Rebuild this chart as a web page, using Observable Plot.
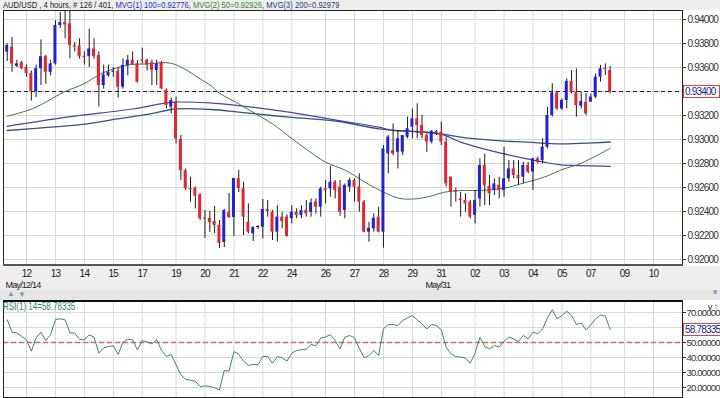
<!DOCTYPE html>
<html><head><meta charset="utf-8">
<script src="https://cdn.jsdelivr.net/npm/d3@7"></script>
<script src="https://cdn.jsdelivr.net/npm/@observablehq/plot@0.6"></script>
<style>
body{margin:0;background:#fff;}
#wrap{position:relative;width:720px;height:398px;overflow:hidden;font-family:"Liberation Sans",Arial,sans-serif;color:#222;}
.abs{position:absolute;white-space:nowrap;}
.sq{transform:scaleX(0.8);transform-origin:0 0;}
</style></head><body><div id="wrap"></div>
<script>
// ---- data ----
const opens=[0.93728,0.93770,0.93610,0.93640,0.93600,0.93550,0.93400,0.93590,0.93690,0.93560,
0.93630,0.93950,0.93975,0.93964,0.93780,0.93780,0.93690,0.93690,0.93755,0.93700,
0.93450,0.93530,0.93560,0.93570,0.93436,0.93617,0.93660,0.93630,0.93660,0.93660,
0.93640,0.93575,0.93640,0.93410,0.93270,0.93310,0.93000,0.92740,0.92589,0.92594,
0.92540,0.92345,0.92342,0.92317,0.92283,0.92142,0.92392,0.92350,0.92675,0.92589,
0.92310,0.92214,0.92269,0.92269,0.92417,0.92394,0.92228,0.92353,0.92353,0.92340,
0.92394,0.92367,0.92408,0.92394,0.92478,0.92436,0.92589,0.92589,0.92644,0.92603,
0.92408,0.92603,0.92658,0.92603,0.92478,0.92228,0.92255,0.92353,0.92228,0.92880,
0.92908,0.92894,0.92894,0.93019,0.93103,0.93172,0.93117,0.93033,0.92978,0.93067,
0.93061,0.92978,0.92686,0.92575,0.92505,0.92492,0.92478,0.92367,0.92505,0.92783,
0.92610,0.92575,0.92617,0.92575,0.92672,0.92755,0.92700,0.92686,0.92783,0.92728,
0.92839,0.92825,0.92936,0.93200,0.93389,0.93255,0.93325,0.93483,0.93394,0.93278,
0.93311,0.93311,0.93353,0.93520,0.93592,0.93575];
const highs=[0.93800,0.93850,0.93660,0.93650,0.93620,0.93570,0.93620,0.93830,0.93700,0.93660,
0.93990,0.94060,0.94070,0.94070,0.93810,0.93840,0.93730,0.93920,0.93840,0.93730,
0.93620,0.93620,0.93600,0.93600,0.93672,0.93700,0.93730,0.93658,0.93760,0.93670,
0.93660,0.93660,0.93650,0.93422,0.93345,0.93353,0.93033,0.92755,0.92686,0.92603,
0.92547,0.92408,0.92400,0.92442,0.92325,0.92417,0.92550,0.92675,0.92742,0.92644,
0.92464,0.92269,0.92283,0.92500,0.92492,0.92408,0.92449,0.92394,0.92372,0.92449,
0.92422,0.92449,0.92492,0.92505,0.92505,0.92603,0.92658,0.92778,0.92658,0.92658,
0.92630,0.92678,0.92672,0.92714,0.92492,0.92310,0.92380,0.92436,0.92950,0.93033,
0.93130,0.93075,0.93033,0.93186,0.93255,0.93297,0.93200,0.93047,0.93075,0.93075,
0.93144,0.93020,0.92686,0.92594,0.92560,0.92547,0.92492,0.92575,0.92839,0.92880,
0.92700,0.92672,0.92686,0.92936,0.92825,0.92825,0.92825,0.92810,0.92810,0.92844,
0.92853,0.93006,0.93269,0.93464,0.93400,0.93339,0.93505,0.93575,0.93589,0.93394,
0.93380,0.93380,0.93547,0.93617,0.93630,0.93608];
const lows=[0.93650,0.93560,0.93600,0.93580,0.93520,0.93320,0.93350,0.93450,0.93460,0.93530,
0.93620,0.93925,0.93840,0.93672,0.93730,0.93670,0.93620,0.93600,0.93670,0.93270,
0.93420,0.93520,0.93520,0.93344,0.93420,0.93530,0.93620,0.93470,0.93630,0.93570,
0.93450,0.93450,0.93417,0.93255,0.93214,0.92964,0.92658,0.92575,0.92478,0.92422,
0.92325,0.92175,0.92225,0.92217,0.92092,0.92100,0.92342,0.92192,0.92558,0.92200,
0.92214,0.92150,0.92250,0.92172,0.92353,0.92158,0.92144,0.92255,0.92186,0.92297,
0.92340,0.92340,0.92353,0.92353,0.92378,0.92353,0.92464,0.92519,0.92505,0.92360,
0.92339,0.92561,0.92478,0.92394,0.92222,0.92144,0.92228,0.92222,0.92094,0.92714,
0.92866,0.92755,0.92866,0.93006,0.93006,0.93006,0.93006,0.92894,0.92964,0.93033,
0.92950,0.92603,0.92436,0.92478,0.92353,0.92394,0.92339,0.92297,0.92436,0.92449,
0.92449,0.92533,0.92505,0.92519,0.92644,0.92672,0.92617,0.92630,0.92714,0.92575,
0.92797,0.92797,0.92922,0.93186,0.93242,0.93242,0.93255,0.93380,0.93186,0.93255,
0.93200,0.93311,0.93339,0.93478,0.93533,0.93380];
const closes=[0.93783,0.93630,0.93630,0.93590,0.93550,0.93400,0.93590,0.93690,0.93560,0.93630,
0.93950,0.93975,0.93955,0.93783,0.93770,0.93690,0.93685,0.93755,0.93690,0.93450,
0.93538,0.93560,0.93570,0.93436,0.93617,0.93660,0.93620,0.93478,0.93655,0.93620,
0.93575,0.93630,0.93422,0.93283,0.93325,0.93006,0.92740,0.92589,0.92585,0.92527,
0.92340,0.92338,0.92308,0.92283,0.92133,0.92408,0.92350,0.92675,0.92592,0.92353,
0.92227,0.92269,0.92272,0.92417,0.92400,0.92228,0.92353,0.92317,0.92194,0.92394,
0.92367,0.92408,0.92381,0.92472,0.92436,0.92589,0.92575,0.92644,0.92575,0.92394,
0.92617,0.92658,0.92603,0.92478,0.92228,0.92260,0.92344,0.92228,0.92922,0.93020,
0.92880,0.93006,0.93033,0.93089,0.93172,0.93117,0.93033,0.92978,0.93067,0.93053,
0.92978,0.92630,0.92560,0.92560,0.92492,0.92464,0.92353,0.92492,0.92783,0.92617,
0.92547,0.92630,0.92575,0.92672,0.92755,0.92700,0.92672,0.92783,0.92728,0.92839,
0.92811,0.92936,0.93200,0.93389,0.93255,0.93325,0.93483,0.93394,0.93283,0.93317,
0.93214,0.93353,0.93520,0.93589,0.93585,0.93400];

// moving averages read at sample bars
const ma100Bar=[0,12.4,26.3,31.8,34.6,42,48,58.4,68.8,77.1,79.8,83.6,89.8,94,98.8,103,107.8,111.3,114.7,118.2,125];
const ma100Val=[0.93110,0.93186,0.93256,0.93297,0.93311,0.93305,0.93283,0.93228,0.93158,0.93103,0.93075,0.93067,0.93047,0.92978,0.92922,0.92880,0.92839,0.92811,0.92789,0.92783,0.92776];
const ma50Bar=[0,5.5,11.7,15.9,19.4,22.1,25.2,29,33.9,37.3,40,42.2,43.9,48,51.5,55,59.1,61.9,66,70.2,73.6,76.4,78.1,81.2,84.6,87.8,90.5,94,97.4,103,106.4,111.3,115.4,118.2,121.6,125];
const ma50Val=[0.93194,0.93261,0.93394,0.93464,0.93547,0.93589,0.93622,0.93630,0.93636,0.93575,0.93505,0.93450,0.93389,0.93297,0.93214,0.93130,0.93005,0.92922,0.92811,0.92742,0.92658,0.92594,0.92560,0.92510,0.92505,0.92528,0.92560,0.92575,0.92575,0.92594,0.92630,0.92686,0.92755,0.92789,0.92853,0.92926];
const ma200Bar=[0,9,16.6,22.8,29.7,33.9,35.2,42.2,48,58.4,68.8,77.1,84.6,89.8,94,101,107.8,114.7,121.6,125];
const ma200Val=[0.93075,0.93103,0.93130,0.93172,0.93214,0.93250,0.93256,0.93250,0.93228,0.93186,0.93150,0.93089,0.93067,0.93047,0.93020,0.92992,0.92978,0.92964,0.92972,0.92979];

const rsiVals=[65.1,56.9,56.4,54.0,51.8,44.2,53.1,56.9,51.3,55.3,65.3,65.8,65.1,56.4,56.2,52.0,51.8,55.1,53.6,42.9,
46.4,47.3,47.8,42.0,50.2,52.2,51.8,45.1,51.3,50.4,49.1,51.8,44.7,40.7,42.0,35.3,28.4,25.3,24.9,24.2,
20.7,21.1,20.7,19.8,18.4,31.3,30.9,44.0,42.0,37.6,34.7,35.3,35.3,40.7,40.7,36.2,40.7,39.8,37.6,42.9,
44.7,45.1,45.6,48.7,47.8,52.9,53.6,55.3,51.3,45.8,53.6,54.7,53.1,46.0,39.8,41.3,44.7,41.3,59.1,62.0,
62.0,61.3,64.7,66.4,68.0,65.1,62.4,59.1,62.0,61.3,58.4,46.9,42.4,40.7,40.2,39.6,36.2,42.9,53.6,47.3,
45.8,48.0,46.9,50.9,53.6,52.4,50.7,54.7,52.4,56.9,55.8,59.1,66.4,71.8,65.8,68.0,70.9,68.0,62.0,62.9,
58.4,61.8,65.8,68.4,67.6,58.78335];

const priceTicks=[0.920,0.922,0.924,0.926,0.928,0.930,0.932,0.934,0.936,0.938,0.940];
const rsiTicks=[20,30,40,50,70];
const rsiGrid=[20,30,40,50,60,70];
const xTickBars=[4,10,16,22,28,35,41,47,53,59,66,72,78,84,90,97,103,109,115,121,128,134];
const xTickLabels=["12","13","14","15","17","19","20","21","22","24","26","27","28","29","31","02","03","04","05","07","09","10"];
const monthBars=[-0.35,86.7];
const monthLabels=["May/12/14","May/31"];
const lastPrice=0.93400, lastRsi=58.78335;

// ---- build ----
const FONT='"Liberation Sans",Arial,sans-serif';
const candles=opens.map((o,i)=>{
  const c=closes[i],lo=Math.min(o,c),hi=Math.max(o,c),m=(lo+hi)/2,mb=0.00009;
  const small=hi-lo<mb;
  return {i,o,c,h:highs[i],l:lows[i],b1:small?m-mb/2:lo,b2:small?m+mb/2:hi,
    col:Math.abs(c-o)<0.00004?"#222":(c>o?"#1f22d8":"#e2262e")};
});
const ma100=ma100Bar.map((b,k)=>({b,v:ma100Val[k]}));
const ma50=ma50Bar.map((b,k)=>({b,v:ma50Val[k]}));
const ma200=ma200Bar.map((b,k)=>({b,v:ma200Val[k]}));
const rsi=rsiVals.map((v,i)=>({i,v}));
const labelOf=new Map(xTickBars.map((b,k)=>[b,xTickLabels[k]]));
const months=monthBars.map((b,k)=>({b,t:monthLabels[k]}));
const XD=[-0.77,140.0];
const grid="#d8d8d8";
const svgStyle={background:"transparent",fontSize:"10px",fontFamily:FONT,color:"#222",overflow:"visible",letterSpacing:"-0.8px"};

const wrap=document.getElementById("wrap");
function div(css,html,cls){const d=document.createElement("div");d.className="abs"+(cls?" "+cls:"");d.style.cssText=css;if(html!=null)d.innerHTML=html;wrap.appendChild(d);return d;}

div("left:0;top:0;width:720px;height:10px;background:#eeeeee;");
div("left:0;top:266px;width:720px;height:34px;background:#eeeeee;");
div("left:0;top:290px;width:720px;height:10px;background:#e6e6e6;");

const main=Plot.plot({
  width:720,height:292,marginTop:10,marginBottom:27,marginLeft:3,marginRight:38,
  style:svgStyle,
  x:{domain:XD,axis:null},
  y:{domain:[0.9195,0.94075],axis:null},
  marks:[
    Plot.frame({fill:"#fff"}),
    Plot.gridY(priceTicks,{stroke:grid,strokeOpacity:1}),
    Plot.gridX(xTickBars,{stroke:grid,strokeOpacity:1}),
    Plot.axisY(priceTicks.filter(t=>t!==lastPrice),{anchor:"right",tickFormat:d3.format(".5f"),tickSize:3,tickPadding:2,stroke:"#333",fill:"#333"}),
    Plot.axisX(xTickBars,{anchor:"bottom",tickFormat:d=>labelOf.get(d),tickSize:0,tickPadding:4,fill:"#222"}),
    Plot.text(months,{x:"b",text:"t",frameAnchor:"bottom",dy:22,fontSize:9,textAnchor:"start",fill:"#222",clip:false}),
    Plot.ruleY([lastPrice],{stroke:"#1b1b66",strokeWidth:1.2,strokeDasharray:"4,3"}),
    Plot.line(ma200,{x:"b",y:"v",stroke:"#33557f",strokeWidth:1.3,curve:"catmull-rom"}),
    Plot.line(ma100,{x:"b",y:"v",stroke:"#4a44a6",strokeWidth:1.2,curve:"catmull-rom"}),
    Plot.line(ma50,{x:"b",y:"v",stroke:"#3f7a42",strokeWidth:1,curve:"catmull-rom"}),
    Plot.ruleX(candles,{x:"i",y1:"l",y2:"h",stroke:"#1c1c1c",strokeWidth:1,clip:true}),
    Plot.rect(candles,{x1:d=>d.i-0.31,x2:d=>d.i+0.31,y1:"b1",y2:"b2",fill:"col",clip:true}),
    Plot.frame({stroke:"#222"})
  ]
});
main.style.position="absolute";main.style.left="0";main.style.top="0";
wrap.appendChild(main);
div("left:3px;top:264px;width:680px;height:2px;background:#555;");

const rsiFig=Plot.plot({
  width:720,height:98,marginTop:1,marginBottom:1,marginLeft:3,marginRight:38,
  style:{...svgStyle,fontSize:"9.5px"},
  x:{domain:XD,axis:null},
  y:{domain:[13.33,77.33],axis:null},
  marks:[
    Plot.frame({fill:"#fff"}),
    Plot.gridY(rsiGrid,{stroke:grid,strokeOpacity:1}),
    Plot.gridX(xTickBars,{stroke:grid,strokeOpacity:1}),
    Plot.axisY(rsiTicks,{anchor:"right",tickFormat:d3.format(".5f"),tickSize:3,tickPadding:1,stroke:"#333",fill:"#333"}),
    Plot.ruleY([50],{stroke:"#d86a6a",strokeWidth:1.5,strokeDasharray:"5,3"}),
    Plot.line(rsi,{x:"i",y:"v",stroke:"#3a8c66",strokeWidth:1}),
    Plot.frame({stroke:"#222"})
  ]
});
rsiFig.style.position="absolute";rsiFig.style.left="0";rsiFig.style.top="300px";
wrap.appendChild(rsiFig);
div("left:3px;top:300px;width:680px;height:2px;background:#111;");

// value boxes positioned through the plot scales
const boxCss="background:#fff;border:1px solid #d04848;color:#1a1a90;font-size:10px;line-height:11px;height:11px;padding-left:1px;letter-spacing:-0.8px;";
const py=main.scale("y").apply(lastPrice);
div(`left:683px;top:${py-6}px;width:34px;${boxCss}`,d3.format(".5f")(lastPrice));
const ry=300+rsiFig.scale("y").apply(lastRsi);
div(`left:683px;top:${ry-6}px;width:35px;${boxCss}`,d3.format(".5f")(lastRsi));

// texts
div("left:3px;top:0px;font-size:9.5px;line-height:9px;",
 'AUD/USD , 4 hours, # 126 / 401, <span style="color:#2a2ad0">MVG(1) 100=0.92776</span>, <span style="color:#2e8a2e">MVG(2) 50=0.92926</span>, <span style="color:#1e3c78">MVG(3) 200=0.92979</span>',"sq");
div("left:3px;top:302px;font-size:10px;line-height:10px;color:#2f8a5c;","RSI(1) 14=58.78335","sq");
div("left:7px;top:290px;font-size:8px;line-height:8px;color:#8898b0;","▲");
div("left:18px;top:291px;font-size:8px;line-height:8px;color:#8898b0;","▼");
div("left:713px;top:288px;font-size:8px;line-height:8px;color:#7080a0;font-weight:bold;","x");
</script></body></html>
